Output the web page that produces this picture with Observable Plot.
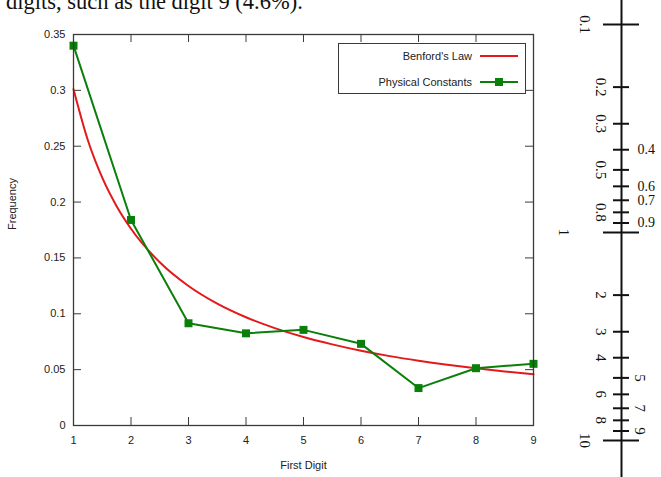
<!DOCTYPE html>
<html>
<head>
<meta charset="utf-8">
<script src="https://cdn.jsdelivr.net/npm/d3@7"></script>
<script src="https://cdn.jsdelivr.net/npm/@observablehq/plot@0.6"></script>
<style>
  html, body { margin: 0; padding: 0; background: #fff; }
  #wrap { position: relative; width: 661px; height: 477px; overflow: hidden; background: #fff; }
  #caption { position: absolute; left: 6px; top: -9px; font-family: "Liberation Serif", "Times New Roman", serif; font-size: 22.5px; line-height: 1; white-space: nowrap; color: #111; }
  #main { position: absolute; left: 0; top: 0; }
  #rule { position: absolute; left: 560px; top: 0; }
  #legend { position: absolute; left: 338px; top: 43px; width: 186px; height: 49px; border: 1px solid #3a3a3a; background: #fff;
            font-family: "Liberation Sans", Arial, sans-serif; font-size: 11px; color: #222; }
  #legend .lab { position: absolute; right: 53px; white-space: nowrap; line-height: 12px; }
  #legend svg { position: absolute; left: 141px; }
</style>
</head>
<body>
<div id="wrap">
  <div id="main"></div>
  <div id="rule"></div>
  <div id="caption">digits, such as the digit 9 (4.6%).</div>
</div>
<script>
// ---------- data ----------
const digits = [1, 2, 3, 4, 5, 6, 7, 8, 9];
const physicalConstants = [0.340, 0.184, 0.0915, 0.0825, 0.0856, 0.0731, 0.0335, 0.0513, 0.0552];
const benfordX = [1, 1.25, 1.5, 1.75, 2, 2.5, 3, 3.5, 4, 4.5, 5, 5.5, 6, 6.5, 7, 7.5, 8, 8.5, 9];
const benfordY = [0.3010, 0.2553, 0.2218, 0.1963, 0.1761, 0.1461, 0.1249, 0.1091, 0.0969, 0.0872, 0.0792, 0.0726, 0.0669, 0.0621, 0.0580, 0.0544, 0.0512, 0.0483, 0.0458];
const yTicks = [0, 0.05, 0.1, 0.15, 0.2, 0.25, 0.3, 0.35];
const yTickLabels = ["0", "0.05", "0.1", "0.15", "0.2", "0.25", "0.3", "0.35"];
const xTickLabels = ["1", "2", "3", "4", "5", "6", "7", "8", "9"];
const seriesNames = ["Benford's Law", "Physical Constants"];
const xTitle = "First Digit";
const yTitle = "Frequency";

// slide-rule scale (log) on the right
const ruleMajor = [0.1, 1, 10];
const ruleMinor = [0.2, 0.3, 0.4, 0.5, 0.6, 0.7, 0.8, 0.9, 2, 3, 4, 5, 6, 7, 8, 9];
const ruleLabelsLeft = [0.2, 0.3, 0.5, 0.8, 2, 3, 4, 6, 8];
const ruleLabelsLeftMajor = [0.1, 10];
const ruleLabelsUnit = [1];
const ruleLabelsRightRotated = [5, 7, 9];
const ruleLabelsRightFlat = [0.4, 0.6, 0.7, 0.9];

// ---------- main chart ----------
const W = 661, H = 477, mL = 73, mR = 128, mT = 34, mB = 52;
const fw = W - mL - mR, fh = H - mT - mB, TK = 8;
const axisColor = "#3a3a3a";
const red = "#e3191c", green = "#0a7f0a";
const benford = benfordX.map((x, i) => ({x, y: benfordY[i]}));
const phys = digits.map((d, i) => ({x: d, y: physicalConstants[i]}));

const main = Plot.plot({
  width: W, height: H,
  marginLeft: mL, marginRight: mR, marginTop: mT, marginBottom: mB,
  style: {fontFamily: "'Liberation Sans', Arial, sans-serif", fontSize: "11px", color: "#222", background: "transparent", overflow: "visible"},
  x: {domain: [1, 9], axis: null},
  y: {domain: [0, 0.35], axis: null},
  marks: [
    Plot.tickX(digits, {x: d => d, insetTop: fh - TK, stroke: axisColor, strokeWidth: 1}),
    Plot.tickX(digits, {x: d => d, insetBottom: fh - TK, stroke: axisColor, strokeWidth: 1}),
    Plot.tickY(yTicks, {y: d => d, insetRight: fw - TK, stroke: axisColor, strokeWidth: 1}),
    Plot.tickY(yTicks, {y: d => d, insetLeft: fw - TK, stroke: axisColor, strokeWidth: 1}),
    Plot.line(benford, {x: "x", y: "y", stroke: red, strokeWidth: 2, curve: "monotone-x"}),
    Plot.line(phys, {x: "x", y: "y", stroke: green, strokeWidth: 2}),
    Plot.dot(phys, {x: "x", y: "y", symbol: "square", r: 4.5, fill: green, stroke: "none"}),
    Plot.frame({stroke: axisColor, strokeWidth: 1.3}),
    Plot.text(digits, {x: d => d, frameAnchor: "bottom", dy: 18, text: (d, i) => xTickLabels[i], fill: "#222"}),
    Plot.text(yTicks, {y: d => d, frameAnchor: "left", dx: -8, textAnchor: "end", text: (d, i) => yTickLabels[i], fill: "#222"}),
    Plot.text([xTitle], {frameAnchor: "bottom", dy: 43, text: d => d, fill: "#222"}),
    Plot.text([yTitle], {frameAnchor: "left", dx: -61, rotate: -90, text: d => d, fill: "#222"})
  ]
});
document.getElementById("main").appendChild(main);

// legend
const legend = document.createElement("div");
legend.id = "legend";
const rows = [
  {name: seriesNames[0], color: red, marker: false, cy: 12},
  {name: seriesNames[1], color: green, marker: true, cy: 38}
];
for (const r of rows) {
  const lab = document.createElement("div");
  lab.className = "lab";
  lab.style.top = (r.cy - 6) + "px";
  lab.textContent = r.name;
  legend.appendChild(lab);
  const ns = "http://www.w3.org/2000/svg";
  const svg = document.createElementNS(ns, "svg");
  svg.setAttribute("width", 40); svg.setAttribute("height", 10);
  svg.style.top = (r.cy - 5) + "px";
  const ln = document.createElementNS(ns, "line");
  ln.setAttribute("x1", 0); ln.setAttribute("x2", 38); ln.setAttribute("y1", 5); ln.setAttribute("y2", 5);
  ln.setAttribute("stroke", r.color); ln.setAttribute("stroke-width", 2);
  svg.appendChild(ln);
  if (r.marker) {
    const sq = document.createElementNS(ns, "rect");
    sq.setAttribute("x", 15); sq.setAttribute("y", 1); sq.setAttribute("width", 8); sq.setAttribute("height", 8);
    sq.setAttribute("fill", r.color);
    svg.appendChild(sq);
  }
  legend.appendChild(svg);
}
document.getElementById("wrap").insertBefore(legend, document.getElementById("rule"));

// ---------- slide-rule scale ----------
const ink = "#111";
const serif = "'Liberation Serif', 'Times New Roman', serif";
const rule = Plot.plot({
  width: 101, height: 477, margin: 0,
  style: {fontFamily: serif, fontSize: "15px", color: ink, background: "transparent", overflow: "visible"},
  x: {domain: [-61, 40], range: [0, 101], axis: null},
  y: {type: "log", domain: [0.1, 10], range: [24, 440], axis: null},
  marks: [
    Plot.ruleX([0], {x: d => d, stroke: ink, strokeWidth: 2}),
    Plot.ruleY(ruleMajor, {y: d => d, x1: -18, x2: 18, stroke: ink, strokeWidth: 2}),
    Plot.ruleY(ruleMinor, {y: d => d, x1: -8, x2: 8, stroke: ink, strokeWidth: 2}),
    Plot.text(ruleLabelsLeft, {y: d => d, x: -21, rotate: 90, text: d => String(d), fill: ink}),
    Plot.text(ruleLabelsLeftMajor, {y: d => d, x: -37, rotate: 90, text: d => String(d), fill: ink}),
    Plot.text(ruleLabelsUnit, {y: d => d, x: -58, rotate: 90, text: d => String(d), fill: ink}),
    Plot.text(ruleLabelsRightRotated, {y: d => d, x: 18, rotate: 90, text: d => String(d), fill: ink}),
    Plot.text(ruleLabelsRightFlat, {y: d => d, x: 16, textAnchor: "start", fontSize: 14, text: d => String(d), fill: ink})
  ]
});
document.getElementById("rule").appendChild(rule);
</script>
</body>
</html>
